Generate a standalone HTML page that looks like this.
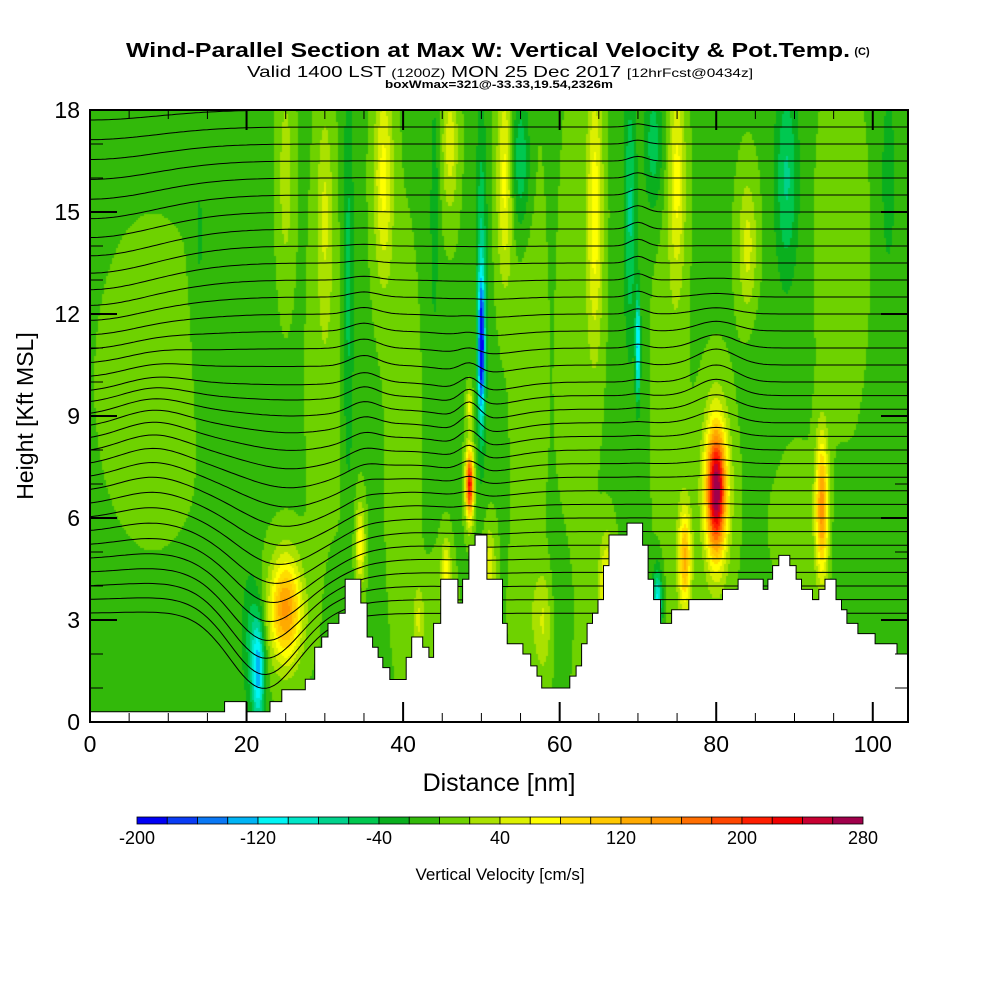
<!DOCTYPE html>
<html><head><meta charset="utf-8">
<style>
html,body{margin:0;padding:0;background:#fff;width:1000px;height:1000px;overflow:hidden}
#wrap{position:relative;width:1000px;height:1000px}
canvas{position:absolute;left:90px;top:110px}
svg{position:absolute;left:0;top:0}
text{font-family:"Liberation Sans",sans-serif}
</style></head>
<body>
<div id="wrap">
<canvas id="field" width="818" height="612"></canvas>
<svg id="svg" width="1000" height="1000" xmlns="http://www.w3.org/2000/svg">
  <text x="488" y="57" text-anchor="middle" font-size="20" font-weight="bold" textLength="724" lengthAdjust="spacingAndGlyphs">Wind-Parallel Section at Max W: Vertical Velocity &amp; Pot.Temp.</text>
  <text x="862" y="55" text-anchor="middle" font-size="11" font-weight="bold">(C)</text>
  <text x="500" y="77" text-anchor="middle" font-size="16" textLength="506" lengthAdjust="spacingAndGlyphs">Valid 1400 LST <tspan font-size="12">(1200Z)</tspan> MON 25 Dec 2017 <tspan font-size="12">[12hrFcst@0434z]</tspan></text>
  <text x="499" y="88" text-anchor="middle" font-size="11" font-weight="bold" textLength="228" lengthAdjust="spacingAndGlyphs">boxWmax=321@-33.33,19.54,2326m</text>
  <g id="contours"></g>
  <g id="terrain"></g>
  <g id="axes"></g>
  <text x="499" y="791" text-anchor="middle" font-size="25">Distance [nm]</text>
  <text transform="translate(33,416) rotate(-90)" text-anchor="middle" font-size="23">Height [Kft MSL]</text>
  <g id="cbar"></g>
  <text x="500" y="880" text-anchor="middle" font-size="17">Vertical Velocity [cm/s]</text>
</svg>
</div>
<script>
// ---- data ----
const binColors = ["#0000f5","#0a3cf5","#0a78f5","#00b4f5","#00f5f5","#00e6c8","#00d28c","#00c850","#0aaf1e","#32b90a","#6ed200","#aae100","#dcf000","#ffff00","#ffdc00","#ffc800","#ffaa00","#ff9600","#ff6e00","#ff4600","#ff1e00","#f00000","#c80032","#a0004b"];
const cbarLabels = [-200,-120,-40,40,120,200,280];
const xTicks = [0,20,40,60,80,100];
const yTicks = [0,3,6,9,12,15,18];
const wBase = -3;
// features: [x nm, z kft, sx, sz, amplitude cm/s]
const wFeatX = [8,30,40,56,62,74,96,90,45,56, 37.5,46,53,64.5,75,84,30,25, 25,34.5,48.5,48.5,51,66,76,80,80,93.5,42,45.5,58, 21.5,20.5,50,50,33,44,55,70,69,72.5,72,89,86,96,60,31,102,14];
const wFeatZ = [10,10,8,10,10,10,14,6,3,3, 16,17,16,15,16,14,15,16, 3.3,5.2,7,9.3,4.5,4,4.8,6.8,6.8,6.3,3,4.3,3, 1.5,2.5,11,13,13,15,16.5,11,15,3.5,17,16,10,5,4,3,16,14];
const wFeatSX = [6,2,2,2,2,2,3,3,2,2, 1.2,1,1,1,1,1.2,1,1, 2.0,0.6,0.5,0.4,0.8,1,0.8,1.2,2,0.8,0.7,0.6,1, 0.8,1.2,0.4,0.7,0.7,0.6,1.2,0.3,0.8,0.6,1.2,1.5,2,1.5,2,1,1,1];
const wFeatSZ = [4,6,6,8,8,8,5,2,2,2, 3,2,3,4,3,2,3,3, 1.5,1.2,1.0,0.5,1.2,1.5,1.5,1.8,2.7,2.0,1,1,1.5, 1.5,2,2,5,6,4,2,1.5,4,1,2,3,2,2,2,2,3,4];
const wFeatAmp = [14,16,14,14,14,14,14,12,12,14, 70,55,70,75,65,50,40,35, 150,75,230,70,60,75,125,240,50,150,45,75,40, -120,-40,-170,-60,-45,-30,-60,-130,-60,-110,-50,-60,-15,-10,-10,-15,-30,-20];
// terrain steps: start distance (nm) and height (kft)
const terrX = [0,17.2,20.0,23.0,24.5,27.5,28.7,29.6,30.4,31.8,32.6,34.6,35.4,36.1,36.8,37.4,38.3,40.4,41.1,42.5,43.3,43.9,44.8,47.0,47.6,48.4,49.2,50.7,52.7,53.3,55.3,56.3,57.1,57.7,61.3,62.1,62.8,63.5,64.2,64.9,65.6,66.3,68.6,70.6,71.3,72.0,72.9,74.3,76.5,80.8,82.8,86.0,86.6,87.2,88.0,89.4,90.2,90.9,92.3,93.1,93.9,95.3,96.0,96.7,98.1,100.3,103.1];
const terrH = [0.3,0.6,0.3,0.6,0.95,1.26,2.2,2.5,2.9,3.2,4.2,3.5,2.5,2.2,1.9,1.6,1.25,1.9,2.5,2.2,1.9,2.9,4.2,3.5,4.2,5.2,5.5,4.2,2.9,2.3,2.0,1.65,1.35,1.0,1.35,1.65,2.3,2.9,3.2,3.6,4.6,5.5,5.85,5.2,4.2,3.6,2.9,3.3,3.6,3.9,4.2,3.9,4.2,4.6,4.9,4.6,4.2,3.9,3.6,3.9,4.2,3.6,3.3,2.9,2.6,2.3,2.0];
// potential temperature contours: base heights (kft)
const thetaLevels = [3.2,3.6,4.0,4.4,4.8,5.2,5.6,6.0,6.4,6.8,7.2,7.6,8.0,8.4,8.8,9.2,9.6,10.0,10.5,11.0,11.5,12.0,12.5,13.0,13.5,14.0,14.5,15.0,15.5,16.0,16.5,17.0,17.5,18.0];
const bumpX = [22,26,48.5,80,35,70,0,50,8];
const bumpZ = [3,6,9,10,10,14,14,9,8];
const bumpSX = [6,8,1.8,3.5,2.5,1.5,12,6,6];
const bumpSZ = [2.5,2.5,2,2,3,4,4,3,3];
const bumpAmp = [-2.0,-1.0,0.5,0.5,0.3,0.2,-0.8,-0.3,0.5];

// ---- scales ----
const X0=90, X1=908, Y0=722, Y1=110, XMAX=104.5, ZMAX=18;
const sx = d => X0 + d*(X1-X0)/XMAX;
const sy = z => Y0 - z*(Y0-Y1)/ZMAX;
const NS="http://www.w3.org/2000/svg";

// ---- field ----
const ctx=document.getElementById('field').getContext('2d');
const cell=2;
for(let px=0;px<818;px+=cell){
  const x=(px+cell/2)*XMAX/818;
  for(let py=0;py<612;py+=cell){
    const z=ZMAX-(py+cell/2)*ZMAX/612;
    let w=wBase;
    for(let i=0;i<wFeatX.length;i++){
      const dx=(x-wFeatX[i])/wFeatSX[i], dz=(z-wFeatZ[i])/wFeatSZ[i];
      w+=wFeatAmp[i]*Math.exp(-dx*dx-dz*dz);
    }
    let b=Math.floor((w+200)/20);b=Math.max(0,Math.min(23,b));
    ctx.fillStyle=binColors[b];
    ctx.fillRect(px,py,cell,cell);
  }
}

// ---- contours ----
const cg=document.getElementById('contours');
thetaLevels.forEach((lv,k)=>{
  let d="";
  for(let x=0;x<=XMAX;x+=0.5){
    let z=lv;
    for(let i=0;i<bumpX.length;i++){
      const dx=(x-bumpX[i])/bumpSX[i], dz=(lv-bumpZ[i])/bumpSZ[i];
      z+=bumpAmp[i]*Math.exp(-dx*dx-dz*dz);
    }
    z=Math.min(z,ZMAX);
    d+=(x===0?"M":"L")+sx(x).toFixed(1)+","+sy(z).toFixed(1);
  }
  const p=document.createElementNS(NS,'path');
  p.setAttribute('d',d);p.setAttribute('fill','none');p.setAttribute('stroke','#000');p.setAttribute('stroke-width','1');
  
  
  cg.appendChild(p);
});

// ---- terrain ----
const tg=document.getElementById('terrain');
let td="M"+sx(0)+","+Y0;
for(let i=0;i<terrX.length;i++){
  const xe=i+1<terrX.length?terrX[i+1]:XMAX;
  td+="L"+sx(terrX[i]).toFixed(1)+","+sy(terrH[i]).toFixed(1)+"L"+sx(xe).toFixed(1)+","+sy(terrH[i]).toFixed(1);
}
td+="L"+X1+","+Y0+"Z";
const tp=document.createElementNS(NS,'path');
tp.setAttribute('d',td);tp.setAttribute('fill','#fff');tp.setAttribute('stroke','#000');tp.setAttribute('stroke-width','1');


tg.appendChild(tp);

// ---- axes ----
const ag=document.getElementById('axes');
function line(x1,y1,x2,y2,w,name){const l=document.createElementNS(NS,'line');l.setAttribute('x1',x1);l.setAttribute('y1',y1);l.setAttribute('x2',x2);l.setAttribute('y2',y2);l.setAttribute('stroke','#000');l.setAttribute('stroke-width',w);


ag.appendChild(l);}
const fr=document.createElementNS(NS,'rect');
fr.setAttribute('x',X0);fr.setAttribute('y',Y1);fr.setAttribute('width',X1-X0);fr.setAttribute('height',Y0-Y1);fr.setAttribute('fill','none');fr.setAttribute('stroke','#000');fr.setAttribute('stroke-width','2');


ag.appendChild(fr);
for(let d=5;d<XMAX;d+=5){const maj=d%20===0;const L=maj?20:9;line(sx(d),Y0,sx(d),Y0-L,maj?2:1,'x-tick');line(sx(d),Y1,sx(d),Y1+L,maj?2:1,'x-tick');}
for(let z=1;z<ZMAX;z++){const maj=z%3===0;const L=maj?27:13;line(X0,sy(z),X0+L,sy(z),maj?2:1,'y-tick');line(X1,sy(z),X1-L,sy(z),maj?2:1,'y-tick');}
xTicks.forEach(v=>{const t=document.createElementNS(NS,'text');t.setAttribute('x',sx(v));t.setAttribute('y',752);t.setAttribute('text-anchor','middle');t.setAttribute('font-size','23');t.textContent=v;


ag.appendChild(t);});
yTicks.forEach(v=>{const t=document.createElementNS(NS,'text');t.setAttribute('x',80);t.setAttribute('y',sy(v)+8);t.setAttribute('text-anchor','end');t.setAttribute('font-size','23');t.textContent=v;


ag.appendChild(t);});

// ---- colorbar ----
const cb=document.getElementById('cbar');
const CB0=137, CBW=30.25, CBY=817, CBH=7;
binColors.forEach((c,i)=>{const r=document.createElementNS(NS,'rect');r.setAttribute('x',CB0+i*CBW);r.setAttribute('y',CBY);r.setAttribute('width',CBW);r.setAttribute('height',CBH);r.setAttribute('fill',c);r.setAttribute('stroke','#000');r.setAttribute('stroke-width','0.8');


cb.appendChild(r);});
cbarLabels.forEach(v=>{const t=document.createElementNS(NS,'text');t.setAttribute('x',CB0+(v+200)/20*CBW);t.setAttribute('y',844);t.setAttribute('text-anchor','middle');t.setAttribute('font-size','18');t.textContent=v;


cb.appendChild(t);});
</script>
</body></html>
